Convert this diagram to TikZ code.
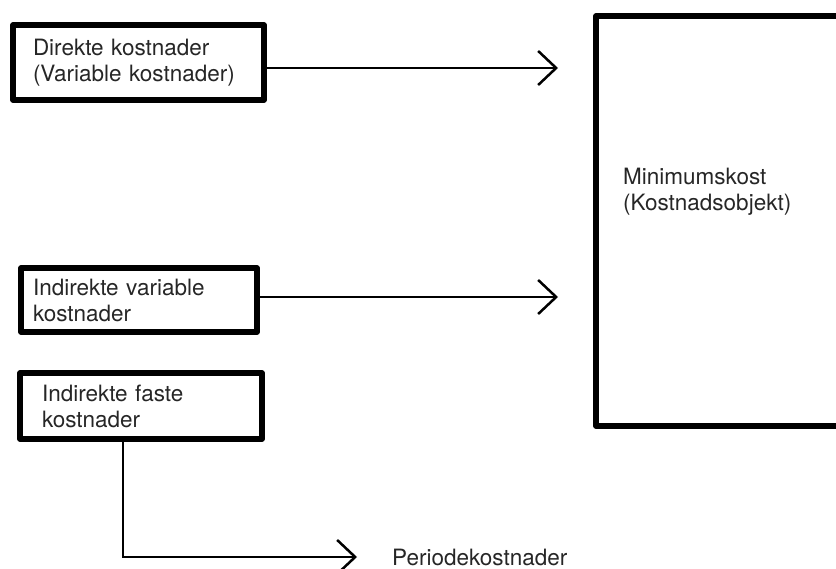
\documentclass[tikz,border=0pt]{standalone}
\usepackage{fontspec}
\setmainfont{TeX Gyre Heros}
\usetikzlibrary{arrows.meta}
\begin{document}
\begin{tikzpicture}[x = 1pt, y = -1pt,
                        box/.style = {rectangle, draw, line width = 5.5pt, line join = round, align = left,
                                      font = \fontsize{22.5}{26}\selectfont, text = black!85},
                        txt/.style = {align = left, inner sep = 0pt, font = \fontsize{22.5}{26}\selectfont, text = black!85},
                        arr/.style = {line width = 2.5pt, -{Straight Barb[length = 18pt, width = 34pt, line width = 2.5pt]}}]
      \clip (0, 0) rectangle (836, 569);

      \node [box, text width = 211pt, inner xsep = 20pt, minimum height = 75pt] (dir) at (138.5, 62.5){Direkte kostnader\\(Variable kostnader)};
      \node [box, text width = 212pt, inner xsep = 12pt, minimum height = 64pt] (ivar) at (139, 300){Indirekte variable\\kostnader};
      \node [box, text width = 198pt, inner xsep = 22pt, minimum height = 66pt] (ifast) at (141, 406){Indirekte faste\\kostnader};
      \node [box, minimum width = 264pt, minimum height = 410pt] (obj) at (728, 221){};
      \node [txt, anchor = west] (objlbl) at (623, 192){Minimumskost\\(Kostnadsobjekt)};
      \node [txt, anchor = west] (per) at (392, 557){Periodekostnader};

      \coordinate (t1) at (558, 68);
      \coordinate (t2) at (558, 297);
      \coordinate (k) at (123, 557);
      \coordinate (t3) at (357, 557);

      \draw [arr] (dir.east |- t1) -- (t1);
      \draw [arr] (ivar.east |- t2) -- (t2);
      \draw [arr] (ifast.south -| k) -- (k) -- (t3);
      \end{tikzpicture}
\end{document}
